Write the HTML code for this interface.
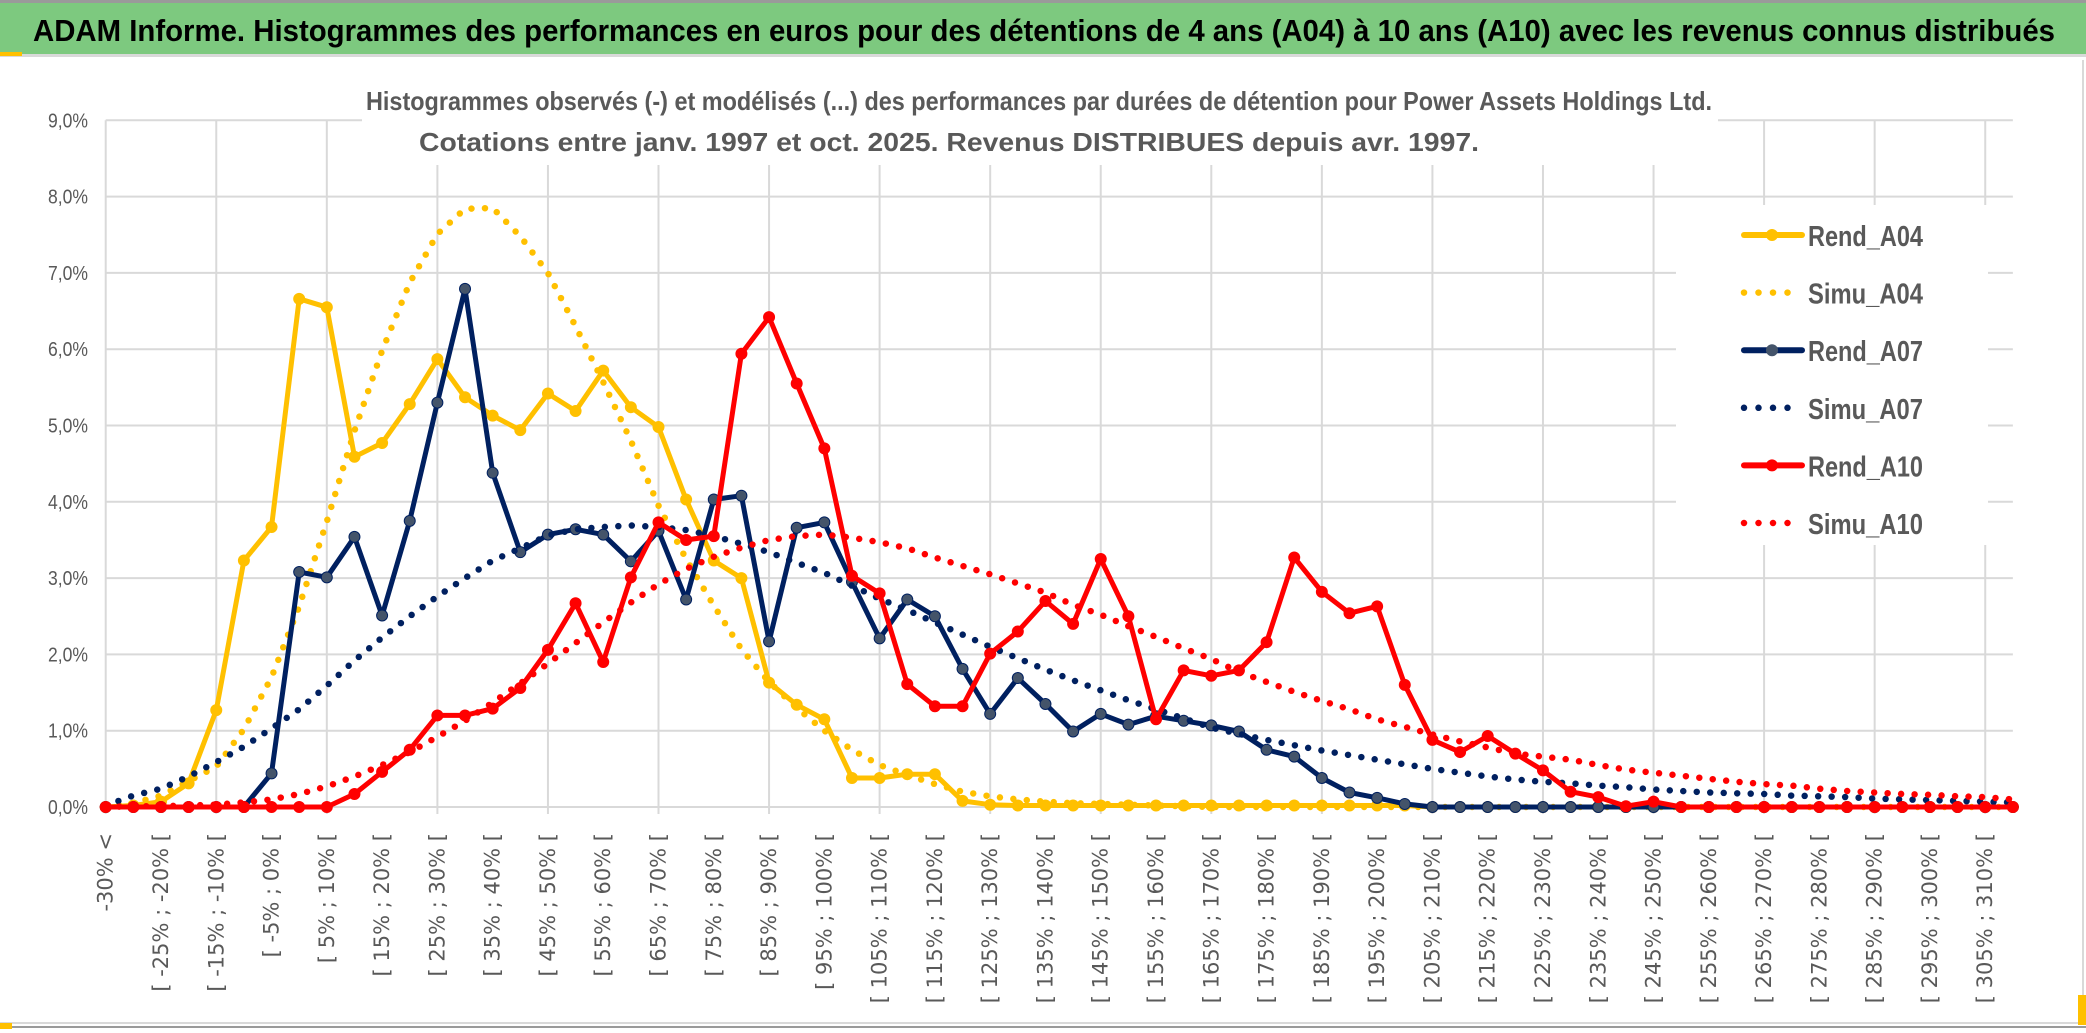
<!DOCTYPE html>
<html><head><meta charset="utf-8">
<style>
html,body{margin:0;padding:0;background:#fff;}
svg{display:block;}
</style></head>
<body>
<svg id="chart" width="2086" height="1033" viewBox="0 0 2086 1033" xmlns="http://www.w3.org/2000/svg">
  <rect x="0" y="0" width="2086" height="1033" fill="#fff"/>
  <rect x="0" y="0" width="2086" height="3" fill="#9a9a9a"/>
  <rect x="0" y="3" width="2086" height="51" fill="#7DC97F"/>
  <rect x="0" y="54" width="2086" height="3" fill="#d9d9d9"/>
  <rect x="0" y="52" width="22" height="4" fill="#FFC000"/>
  <text x="33" y="41" font-family="Liberation Sans, sans-serif" font-weight="bold" font-size="31" fill="#000" textLength="2022" lengthAdjust="spacingAndGlyphs">ADAM Informe. Histogrammes des performances en euros pour des détentions de 4 ans (A04) à 10 ans (A10) avec les revenus connus distribués</text>
  <rect x="0" y="1022" width="2086" height="2" fill="#d9d9d9"/>
  <rect x="0" y="1026" width="2086" height="2" fill="#9a9a9a"/>
  <rect x="0" y="1023" width="12" height="6" fill="#FFC000"/>
  <rect x="2082" y="60" width="2" height="965" fill="#d9d9d9"/>
  <rect x="2078" y="995" width="8" height="30" fill="#FFC000"/>
  <g id="grid"></g>
  <g id="yticks"></g>
  <g id="xticks"></g>
  <rect x="362" y="75" width="1356" height="90" fill="#fff"/>
  <text x="1039" y="110" text-anchor="middle" font-family="Liberation Sans, sans-serif" font-weight="bold" font-size="26" fill="#595959" textLength="1346" lengthAdjust="spacingAndGlyphs">Histogrammes observés (-) et modélisés (...) des performances par durées de détention pour Power Assets Holdings Ltd.</text>
  <text x="949" y="151" text-anchor="middle" font-family="Liberation Sans, sans-serif" font-weight="bold" font-size="26" fill="#595959" textLength="1060" lengthAdjust="spacingAndGlyphs">Cotations entre janv. 1997 et oct. 2025. Revenus DISTRIBUES depuis avr. 1997.</text>
  <g id="series"></g>
  <g id="legend"></g>
</svg>
<script>
const tickLabels = ["-30% <","[ -25% ; -20% [","[ -15% ; -10% [","[ -5% ; 0% [","[ 5% ; 10% [","[ 15% ; 20% [","[ 25% ; 30% [","[ 35% ; 40% [","[ 45% ; 50% [","[ 55% ; 60% [","[ 65% ; 70% [","[ 75% ; 80% [","[ 85% ; 90% [","[ 95% ; 100% [","[ 105% ; 110% [","[ 115% ; 120% [","[ 125% ; 130% [","[ 135% ; 140% [","[ 145% ; 150% [","[ 155% ; 160% [","[ 165% ; 170% [","[ 175% ; 180% [","[ 185% ; 190% [","[ 195% ; 200% [","[ 205% ; 210% [","[ 215% ; 220% [","[ 225% ; 230% [","[ 235% ; 240% [","[ 245% ; 250% [","[ 255% ; 260% [","[ 265% ; 270% [","[ 275% ; 280% [","[ 285% ; 290% [","[ 295% ; 300% [","[ 305% ; 310% ["];
const yTicks = [0,1,2,3,4,5,6,7,8,9];
const yTickLabels = ["0,0%","1,0%","2,0%","3,0%","4,0%","5,0%","6,0%","7,0%","8,0%","9,0%"];
const rendA04 = [0,0.02,0.07,0.31,1.27,3.23,3.67,6.66,6.55,4.59,4.77,5.28,5.87,5.37,5.13,4.94,5.42,5.19,5.72,5.24,4.98,4.03,3.23,3.0,1.63,1.34,1.15,0.38,0.38,0.43,0.43,0.08,0.03,0.02,0.02,0.02,0.02,0.02,0.02,0.02,0.02,0.02,0.02,0.02,0.02,0.02,0.02,0.02,0,0,0,0,0,0,0,0,0,0,0,0,0,0,0,0,0,0,0,0,0,0];
const simuA04 = [0,0.05,0.15,0.34,0.53,1.02,1.70,2.63,3.74,4.93,5.98,6.87,7.51,7.84,7.85,7.48,7.0,6.30,5.57,4.80,3.95,3.25,2.64,2.07,1.64,1.30,1.0,0.75,0.55,0.42,0.30,0.20,0.14,0.10,0.07,0.05,0.04,0.03,0.02,0.01,0,0,0,0,0,0,0,0,0,0,0,0,0,0,0,0,0,0,0,0,0,0,0,0,0,0,0,0,0,0];
const rendA07 = [0,0,0,0,0,0,0.44,3.08,3.01,3.54,2.51,3.75,5.30,6.79,4.38,3.34,3.57,3.64,3.57,3.22,3.62,2.72,4.03,4.08,2.17,3.66,3.73,2.95,2.21,2.72,2.50,1.81,1.22,1.69,1.35,0.99,1.22,1.08,1.19,1.13,1.07,0.99,0.75,0.66,0.38,0.19,0.12,0.04,0,0,0,0,0,0,0,0,0,0,0,0,0,0,0,0,0,0,0,0,0,0];
const simuA07 = [0.02,0.15,0.24,0.40,0.59,0.79,1.03,1.28,1.59,1.92,2.22,2.50,2.76,3.00,3.23,3.39,3.56,3.64,3.67,3.69,3.67,3.63,3.55,3.45,3.34,3.20,3.07,2.90,2.73,2.58,2.42,2.26,2.10,1.95,1.80,1.66,1.53,1.40,1.28,1.16,1.04,0.96,0.88,0.81,0.74,0.68,0.62,0.56,0.50,0.45,0.40,0.36,0.33,0.31,0.28,0.26,0.23,0.21,0.19,0.18,0.17,0.15,0.14,0.13,0.11,0.10,0.09,0.08,0.07,0.06];
const rendA10 = [0,0,0,0,0,0,0,0,0,0.17,0.46,0.75,1.20,1.20,1.29,1.56,2.06,2.67,1.90,3.01,3.73,3.50,3.55,5.94,6.42,5.55,4.70,3.03,2.80,1.61,1.32,1.32,2.01,2.30,2.70,2.40,3.25,2.50,1.15,1.79,1.72,1.79,2.16,3.27,2.82,2.54,2.63,1.60,0.88,0.72,0.93,0.70,0.48,0.20,0.13,0.01,0.07,0,0,0,0,0,0,0,0,0,0,0,0,0];
const simuA10 = [0,0.01,0.01,0.02,0.03,0.06,0.10,0.17,0.27,0.40,0.55,0.72,0.92,1.13,1.37,1.62,1.88,2.15,2.42,2.68,2.92,3.12,3.28,3.40,3.50,3.55,3.57,3.53,3.47,3.39,3.27,3.16,3.05,2.93,2.81,2.65,2.52,2.37,2.23,2.08,1.94,1.77,1.64,1.51,1.39,1.28,1.15,1.05,0.95,0.86,0.78,0.70,0.66,0.62,0.55,0.49,0.45,0.41,0.37,0.33,0.30,0.28,0.24,0.21,0.19,0.17,0.16,0.14,0.13,0.10];

const NS = "http://www.w3.org/2000/svg";
const X0 = 105.7, STEP = 27.64, Y0 = 807, YSTEP = 76.3, NCAT = 70;
function xPos(i){ return X0 + i*STEP; }
function yPos(v){ return Y0 - v*YSTEP; }
function mk(tag, attrs, parent){
  const e = document.createElementNS(NS, tag);
  for (const k in attrs) e.setAttribute(k, attrs[k]);
  parent.appendChild(e);
  return e;
}
const grid = document.getElementById('grid');
const xRight = xPos(NCAT-1);
yTicks.forEach(function(t){
  const l = mk('line', {x1:X0, x2:xRight, y1:yPos(t), y2:yPos(t), stroke:'#d9d9d9', 'stroke-width':2}, grid);
  
  
});
for (let i = 0; i < NCAT; i += 4) {
  const l = mk('line', {x1:xPos(i), x2:xPos(i), y1:yPos(9), y2:Y0+7, stroke:'#d9d9d9', 'stroke-width':2}, grid);
  
  
}
const yt = document.getElementById('yticks');
yTicks.forEach(function(t, k){
  const tx = mk('text', {x:88, y:yPos(t)+7, 'text-anchor':'end', 'font-family':'Liberation Sans, sans-serif', 'font-size':20, fill:'#595959', textLength:40, lengthAdjust:'spacingAndGlyphs'}, yt);
  tx.textContent = yTickLabels[k];
  
  
});
const xt = document.getElementById('xticks');
tickLabels.forEach(function(lab, k){
  const x = xPos(k*2) + 7;
  const tx = mk('text', {x:0, y:0, transform:'translate(' + x + ',833) rotate(-90)', 'text-anchor':'end', 'font-family':'DejaVu Sans, sans-serif', 'font-size':21, fill:'#595959'}, xt);
  tx.textContent = lab;
  
  
});
const sg = document.getElementById('series');
function pathD(vals){
  return vals.map(function(v, i){ return (i ? 'L' : 'M') + xPos(i).toFixed(1) + ' ' + yPos(v).toFixed(1); }).join(' ');
}
function dotted(vals, color, name){
  const p = mk('path', {d:pathD(vals), fill:'none', stroke:color, 'stroke-width':6.5, 'stroke-linecap':'round', 'stroke-dasharray':'0 13.5'}, sg);
  
  
}
function solid(vals, color, mcolor, name){
  const g = mk('g', {}, sg);
  
  
  mk('path', {d:pathD(vals), fill:'none', stroke:color, 'stroke-width':5, 'stroke-linejoin':'round'}, g);
  vals.forEach(function(v, i){
    const c = mk('circle', {cx:xPos(i), cy:yPos(v), r:5.5, fill:mcolor, stroke:color, 'stroke-width':1}, g);
    
    
  });
}
solid(rendA04, '#FFC000', '#FFC000', 'series-rend-a04');
dotted(simuA04, '#FFC000', 'series-simu-a04');
solid(rendA07, '#002060', '#44546A', 'series-rend-a07');
dotted(simuA07, '#002060', 'series-simu-a07');
solid(rendA10, '#FF0000', '#FF0000', 'series-rend-a10');
dotted(simuA10, '#FF0000', 'series-simu-a10');

const lg = document.getElementById('legend');
const lbg = mk('rect', {x:1676, y:205, width:312, height:340, fill:'#fff'}, lg);


const legNames = ["Rend_A04","Simu_A04","Rend_A07","Simu_A07","Rend_A10","Simu_A10"];
const legColors = ["#FFC000","#FFC000","#002060","#002060","#FF0000","#FF0000"];
const legMarker = ["#FFC000","","#44546A","","#FF0000",""];
legNames.forEach(function(n, k){
  const cy = 235 + k*57.6;
  const g = mk('g', {}, lg);
  
  
  if (legMarker[k]) {
    mk('line', {x1:1744, x2:1802, y1:cy, y2:cy, stroke:legColors[k], 'stroke-width':6, 'stroke-linecap':'round'}, g);
    mk('circle', {cx:1772, cy:cy, r:6, fill:legMarker[k]}, g);
  } else {
    mk('line', {x1:1744, x2:1802, y1:cy, y2:cy, stroke:legColors[k], 'stroke-width':6.5, 'stroke-linecap':'round', 'stroke-dasharray':'0 14.5'}, g);
  }
  const t = mk('text', {x:1808, y:cy+11, 'font-family':'Liberation Sans, sans-serif', 'font-weight':'bold', 'font-size':29, fill:'#595959', textLength:115, lengthAdjust:'spacingAndGlyphs'}, g);
  t.textContent = n;
});
</script>
</body></html>
